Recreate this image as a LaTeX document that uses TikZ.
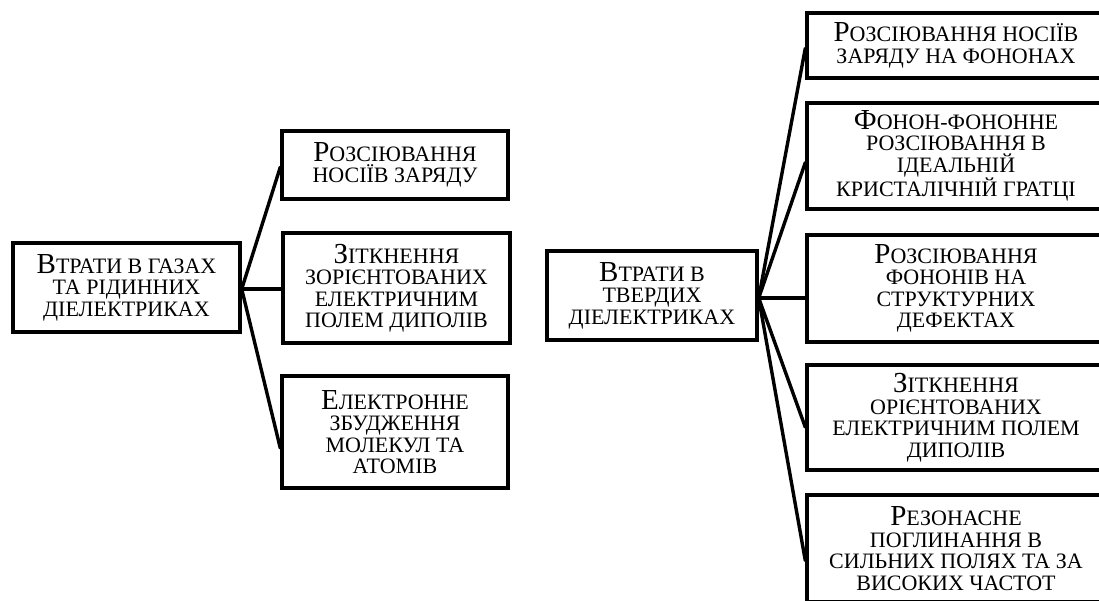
\documentclass[tikz,border=0pt]{standalone}
\usepackage{fontspec}
\setmainfont{Liberation Serif}
\usetikzlibrary{calc}
\newcommand{\Cap}[1]{{\fontsize{29}{22}\selectfont #1}}
\tikzset{
  box/.style={draw, line width=3.4pt, inner sep=0pt, align=center,
    font=\fontsize{22}{21.5}\selectfont},
  conn/.style={draw, line width=3.4pt, line cap=round}
}
\begin{document}
\begin{tikzpicture}[x=1pt,y=-1pt]
\useasboundingbox (0,0) rectangle (1099,601);
% left group
\node[box, minimum width=227pt, minimum height=89pt] (L) at (126.5,287.5)
  {\Cap{В}ТРАТИ В ГАЗАХ\\ТА РІДИННИХ\\ДІЕЛЕКТРИКАХ};
\node[box, minimum width=226pt, minimum height=68pt] (A) at (395,165)
  {\Cap{Р}ОЗСІЮВАННЯ\\НОСІЇВ ЗАРЯДУ};
\node[box, minimum width=227pt, minimum height=110pt] (B) at (396.5,288)
  {\Cap{З}ІТКНЕННЯ\\ЗОРІЄНТОВАНИХ\\ЕЛЕКТРИЧНИМ\\ПОЛЕМ ДИПОЛІВ};
\node[box, minimum width=226pt, minimum height=112pt] (C) at (395,432)
  {\Cap{Е}ЛЕКТРОННЕ\\ЗБУДЖЕННЯ\\МОЛЕКУЛ ТА\\АТОМІВ};
% middle
\node[box, minimum width=210pt, minimum height=89pt] (M) at (652,295.5)
  {\Cap{В}ТРАТИ В\\ТВЕРДИХ\\ДІЕЛЕКТРИКАХ};
% right group
\node[box, minimum width=298pt, minimum height=65pt] (R1) at (956,45.5)
  {\Cap{Р}ОЗСІЮВАННЯ НОСІЇВ\\ЗАРЯДУ НА ФОНОНАХ};
\node[box, minimum width=298pt, minimum height=106pt] (R2) at (956,156)
  {\Cap{Ф}ОНОН-ФОНОННЕ\\РОЗСІЮВАННЯ В\\ІДЕАЛЬНІЙ\\КРИСТАЛІЧНІЙ ГРАТЦІ};
\node[box, minimum width=298pt, minimum height=107pt] (R3) at (956,288.5)
  {\Cap{Р}ОЗСІЮВАННЯ\\ФОНОНІВ НА\\СТРУКТУРНИХ\\ДЕФЕКТАХ};
\node[box, minimum width=298pt, minimum height=105pt] (R4) at (956,417.5)
  {\Cap{З}ІТКНЕННЯ\\ОРІЄНТОВАНИХ\\ЕЛЕКТРИЧНИМ ПОЛЕМ\\ДИПОЛІВ};
\node[box, minimum width=298pt, minimum height=107pt] (R5) at (956,548.5)
  {\Cap{Р}ЕЗОНАСНЕ\\ПОГЛИНАННЯ В\\СИЛЬНИХ ПОЛЯХ ТА ЗА\\ВИСОКИХ ЧАСТОТ};
% connectors left
\coordinate (JL) at ([yshift=-1.5pt]L.east);
\draw[conn] (JL) -- ($(A.north west)!0.53!(A.south west)$);
\draw[conn] (JL) -- (JL -| B.west);
\draw[conn] (JL) -- ($(C.north west)!0.64!(C.south west)$);
% connectors right
\coordinate (JM) at ([yshift=-2.5pt]M.east);
\draw[conn] (JM) -- ($(R1.north west)!0.54!(R1.south west)$);
\draw[conn] (JM) -- ($(R2.north west)!0.56!(R2.south west)$);
\draw[conn] (JM) -- (JM -| R3.west);
\draw[conn] (JM) -- ($(R4.north west)!0.59!(R4.south west)$);
\draw[conn] (JM) -- ($(R5.north west)!0.61!(R5.south west)$);
\end{tikzpicture}
\end{document}
